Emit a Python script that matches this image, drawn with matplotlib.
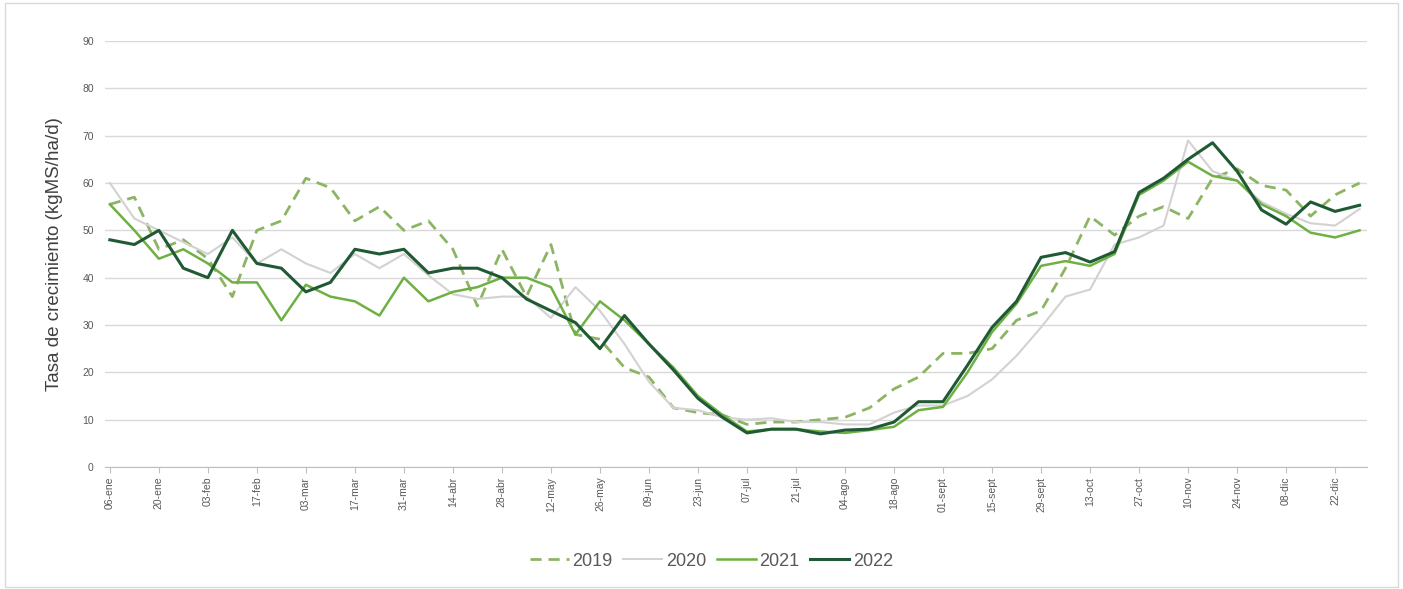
import numpy as np
import matplotlib
matplotlib.use("Agg")
import matplotlib.pyplot as plt
from matplotlib.patches import Rectangle

plt.rcParams["font.family"] = ["Liberation Sans", "DejaVu Sans"]

# Weekly pasture growth rate (kgMS/ha/d), 52 weeks starting 06-ene
tick_labels = ["06-ene", "20-ene", "03-feb", "17-feb", "03-mar", "17-mar", "31-mar",
               "14-abr", "28-abr", "12-may", "26-may", "09-jun", "23-jun", "07-jul",
               "21-jul", "04-ago", "18-ago", "01-sept", "15-sept", "29-sept", "13-oct",
               "27-oct", "10-nov", "24-nov", "08-dic", "22-dic"]

y2019 = [55.5, 57, 46, 48, 44, 36, 50, 52, 61, 59, 52, 55, 50, 52, 46, 34, 46, 36,
         47, 28, 27, 21, 19, 12.5, 11.5, 11, 9, 9.5, 9.5, 10, 10.5, 12.5, 16.5, 19,
         24, 24, 25, 31, 33, 42, 53, 49, 53, 55, 52.5, 61, 63, 59.5, 58.5, 53, 57.5, 60]
y2020 = [60, 52.5, 50, 47.5, 45, 48.5, 43, 46, 43, 41, 45, 42, 45, 40.5, 36.5, 35.5,
         36, 36, 31.5, 38, 33, 26, 18, 12.5, 12, 10.5, 10, 10.3, 9.5, 9.5, 9, 9, 11.5,
         13, 13, 15, 18.5, 23.5, 29.5, 36, 37.5, 47, 48.5, 51, 69, 62.5, 60.5, 56,
         53.5, 51.5, 51, 54.5]
y2021 = [55.5, 50, 44, 46, 43, 39, 39, 31, 38.5, 36, 35, 32, 40, 35, 37, 38, 40, 40,
         38, 28, 35, 31, 26, 21, 15, 11, 7.5, 8, 8, 7.5, 7.2, 7.8, 8.5, 12, 12.7, 20,
         28.5, 34.5, 42.5, 43.5, 42.5, 45, 57.5, 60.5, 64.5, 61.5, 60.5, 55.5, 53,
         49.5, 48.5, 50]
y2022 = [48, 47, 50, 42, 40, 50, 43, 42, 37, 39, 46, 45, 46, 41, 42, 42, 40, 35.5,
         33, 30.5, 25, 32, 26, 20.5, 14.5, 10.5, 7.2, 8, 8, 7, 7.8, 8, 9.5, 13.8, 13.8,
         21.5, 29.5, 35, 44.3, 45.3, 43.3, 45.5, 58, 61, 65, 68.5, 62.5, 54.3, 51.3,
         56, 54, 55.3]

weeks = np.arange(len(y2019))

fig = plt.figure(figsize=(14.03, 5.89), dpi=100)
ax = fig.add_axes([0.0748, 0.2071, 0.8995, 0.7233])

ax.plot(weeks, y2019, color="#8CB563", lw=2.0, ls=(0, (4, 2.5)), label="2019")
ax.plot(weeks, y2020, color="#D3D1D1", lw=1.5, label="2020")
ax.plot(weeks, y2021, color="#6FB043", lw=1.8, label="2021")
ax.plot(weeks, y2022, color="#1F5A34", lw=2.2, label="2022")

ax.set_xlim(-0.2, 51.3)
ax.set_ylim(0, 90)
ax.set_yticks(range(0, 91, 10))
ax.set_xticks(weeks[::2])
ax.set_xticklabels(tick_labels, rotation=90, fontsize=7.5, color="#595959")
ax.tick_params(axis="y", length=0, labelsize=7.5, labelcolor="#595959", pad=8)
ax.tick_params(axis="x", length=4, color="#BFBFBF", pad=3)

ax.grid(axis="y", color="#D9D9D9", lw=1)
ax.set_axisbelow(True)
for side in ["top", "right", "left"]:
    ax.spines[side].set_visible(False)
ax.spines["bottom"].set_color("#BFBFBF")

ax.set_ylabel("Tasa de crecimiento (kgMS/ha/d)", fontsize=13.5, color="#404040", labelpad=14)

leg = fig.legend(loc="center", bbox_to_anchor=(0.507, 0.047), ncol=4, frameon=False,
                 fontsize=13, handlelength=2.15, columnspacing=0.6, handletextpad=0.2)
for t in leg.get_texts():
    t.set_color("#595959")

# light frame around the whole chart
fig.patches.append(Rectangle((0.0036, 0.0034), 0.9929, 0.991, transform=fig.transFigure,
                             fill=False, edgecolor="#D9D9D9", lw=1))

fig.savefig("out.png", dpi=100)
